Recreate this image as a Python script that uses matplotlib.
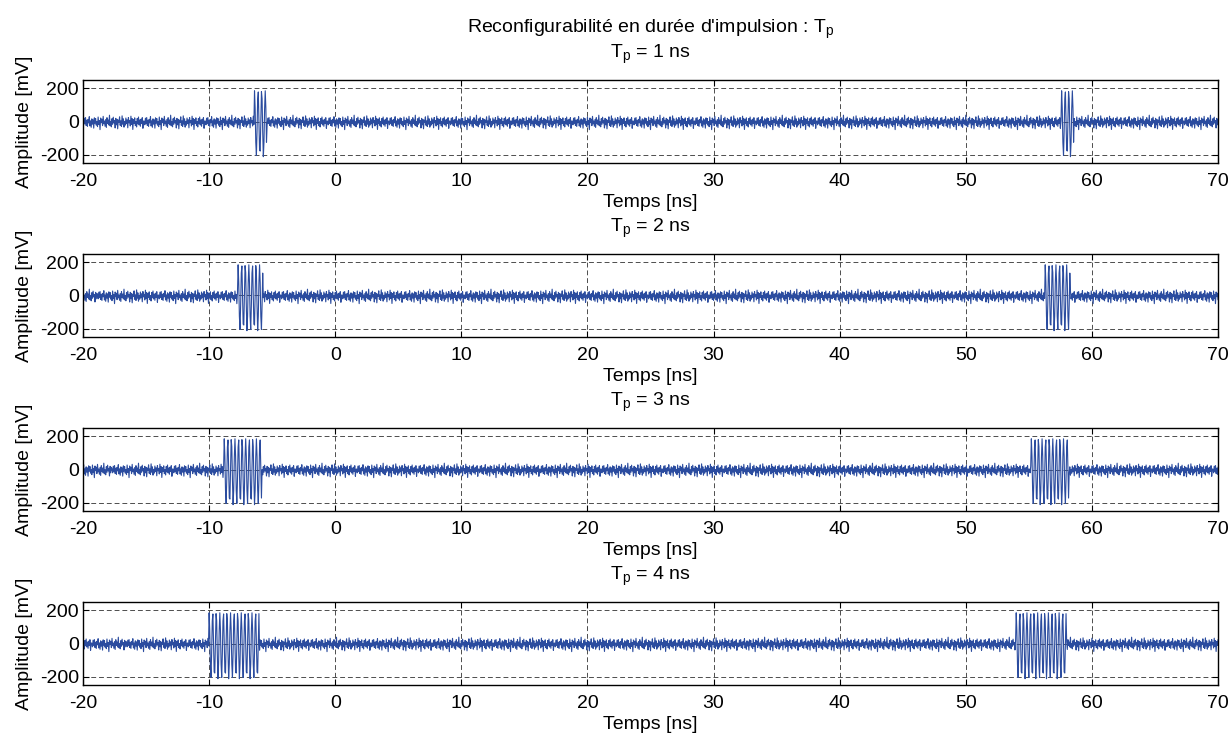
import numpy as np
import matplotlib.pyplot as plt

plt.rcParams['font.family'] = ['Liberation Sans', 'DejaVu Sans']
plt.rcParams['mathtext.fontset'] = 'custom'
plt.rcParams['mathtext.rm'] = 'Liberation Sans'
plt.rcParams['mathtext.it'] = 'Liberation Sans'
plt.rcParams['axes.unicode_minus'] = False

# valeurs
durees_ns = [1, 2, 3, 4]
debut_impulsion_ns = [-6.4, -7.7, -8.8, -10.0]
periode_ns = 64.0
pas_ns = 0.05
t_min, t_max = -20, 70

# un morceau de porteuse (mV), repete pendant l'impulsion (~3.5 GHz)
porteuse_mv = [185, 80, -125, -205, -60, 135, 178, 10, -172, -178,
               8, 180, 138, -62, -212, -125, 75]

# bruit de fond (mV), repete hors impulsion
bruit_mv = [6, -16, 24, -9, 28, -20, 12, -26, 17, -4, 33, -23, 8, -31, 20, -12,
            14, -36, 26, -7, 22, -18, 4, -27, 31, -14, 10, -45, 25, -3, 18, -21,
            35, -10, 7, -25, 16, -32, 27, -8, 13, -17, 42, -22, 3, -28, 21, -13,
            30, -5, 9, -35, 23, -16, 17, -40, 12, -1, 32, -19, 8, -26, 38, -12,
            20, -30, 5, -18, 25, -9, 14, -34, 28, -4, 10, -23, 36, -14, 21, -44,
            16, -7, 26, -21, 4, -29, 22, -10, 31, -17, 13, -25, 18, -8, 27, -37, 7]

xticks = [-20, -10, 0, 10, 20, 30, 40, 50, 60, 70]
yticks = [-200, 0, 200]

couleur = '#2b4c9f'

fig = plt.figure(figsize=(12.31, 7.34), dpi=100)

left, width, height = 83 / 1231, (1218 - 83) / 1231, 83 / 734
tops = [80, 254, 428, 602]

t = np.arange(t_min, t_max + pas_ns / 2, pas_ns)

for k, (tp, t0, top) in enumerate(zip(durees_ns, debut_impulsion_ns, tops)):
    y = np.roll(np.resize(np.array(bruit_mv, dtype=float), t.size), 23 * k) - 4
    for s in (t0, t0 + periode_ns):
        m = (t >= s) & (t < s + tp)
        y[m] = np.resize(np.array(porteuse_mv, dtype=float), m.sum())

    bottom = 1 - (top + 83) / 734
    ax = fig.add_axes([left, bottom, width, height])
    ax.plot(t, y, color=couleur, lw=0.8)
    ax.set_xlim(t_min, t_max)
    ax.set_ylim(-250, 250)
    ax.set_xticks(xticks)
    ax.set_yticks(yticks)
    ax.grid(True, color='0.3', lw=0.7, linestyle=(0, (5, 3)))
    ax.tick_params(direction='in', top=True, right=True, length=4, width=0.8,
                   labelsize=14)
    ax.tick_params(axis='x', pad=7)
    ax.tick_params(axis='y', pad=3)
    for sp in ax.spines.values():
        sp.set_linewidth(1.0)
    ax.set_xlabel('Temps [ns]', fontsize=14, labelpad=3)
    ax.set_ylabel('Amplitude [mV]', fontsize=14, labelpad=5)
    titre = 'T$_p$ = %d ns' % tp
    if k == 0:
        titre = "Reconfigurabilité en durée d'impulsion : T$_p$\n" + titre
    ax.set_title(titre, fontsize=14, pad=16, linespacing=1.1)

fig.savefig('out.png', dpi=100)
